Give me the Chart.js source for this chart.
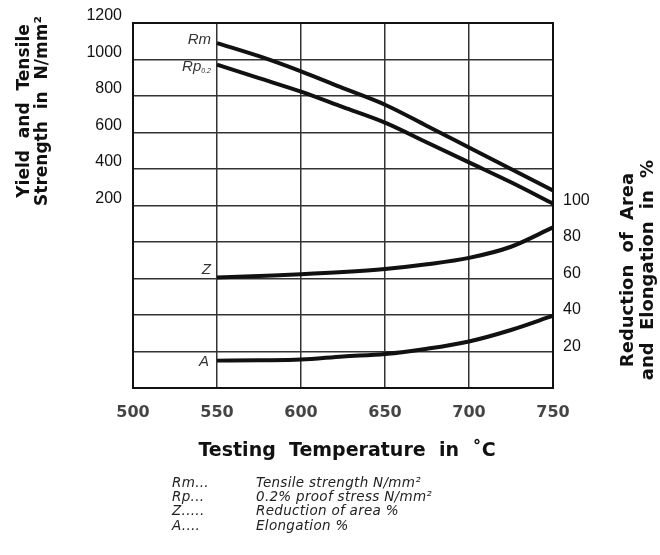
<!DOCTYPE html>
<html>
<head>
<meta charset="utf-8">
<script src="https://cdn.jsdelivr.net/npm/chart.js@4/dist/chart.umd.min.js"></script>
<style>
  html, body { margin: 0; padding: 0; background: #fff; }
  #wrap { position: relative; width: 660px; height: 555px; }
  #legend { position: absolute; left: 172px; top: 475px; font: oblique 13.5px "DejaVu Sans", sans-serif; letter-spacing: 0.3px; color: #222; line-height: 14.2px; }
  #legend div { display: flex; }
  #legend span:first-child { width: 84px; }
</style>
</head>
<body>
<div id="wrap">
  <canvas id="chart" width="660" height="555"></canvas>
  <div id="legend">
    <div><span>Rm...</span><span>Tensile strength N/mm²</span></div>
    <div><span>Rp...</span><span>0.2% proof stress N/mm²</span></div>
    <div><span>Z.....</span><span>Reduction of area %</span></div>
    <div><span>A....</span><span>Elongation %</span></div>
  </div>
</div>
<script>
// testing temperature, °C
const temps = [550, 575, 600, 625, 650, 675, 700, 725, 750];
// strength, N/mm² (left axis)
const rm = [1090, 1018, 935, 843, 752, 636, 518, 400, 282];
const rp = [972, 898, 824, 739, 654, 545, 436, 327, 210];
// reduction of area / elongation, % (right axis)
const z = [60.5, 61.4, 62.3, 63.5, 65.2, 67.8, 71.3, 77.4, 88];
const a = [15, 15.2, 15.6, 17.3, 18.6, 21.5, 25.5, 31.8, 39.6];

const xTicks = [500, 550, 600, 650, 700, 750];
const strengthTicks = [200, 400, 600, 800, 1000, 1200];
const pctTicks = [20, 40, 60, 80, 100];

const pts = vals => vals.map((v, i) => ({ x: temps[i], y: v }));

function curve(label, vals, axis) {
  return {
    label, data: pts(vals), yAxisID: axis,
    borderColor: '#111', borderWidth: 4, pointRadius: 0,
    cubicInterpolationMode: 'monotone', fill: false, clip: false
  };
}

// vertical two-line title, reads bottom to top
function sideTitle(ctx, cx, cy, size, gap, spacing, lines) {
  ctx.save();
  ctx.translate(cx, cy);
  ctx.rotate(-Math.PI / 2);
  ctx.font = `bold ${size}px "DejaVu Sans", sans-serif`;
  if ('wordSpacing' in ctx) ctx.wordSpacing = spacing + 'px';
  ctx.fillText(lines[0], 0, -gap / 2);
  ctx.fillText(lines[1], 0, gap / 2);
  ctx.restore();
}

const labelsPlugin = {
  id: 'labels',
  afterDraw(chart) {
    const { ctx, chartArea: ca } = chart;
    ctx.save();
    ctx.strokeStyle = '#111';
    ctx.lineWidth = 2;
    ctx.strokeRect(ca.left, ca.top, ca.right - ca.left, ca.bottom - ca.top);

    // curve names
    const xs = chart.scales.x, yl = chart.scales.y, yr = chart.scales.y2;
    const lx = xs.getPixelForValue(temps[0]) - 6;
    ctx.fillStyle = '#333';
    ctx.textAlign = 'right';
    ctx.textBaseline = 'middle';
    ctx.font = 'italic 15px "Liberation Sans", Arial, sans-serif';
    ctx.fillText('Rm', lx, yl.getPixelForValue(rm[0]) - 3);
    ctx.font = 'italic 7px "Liberation Sans", Arial, sans-serif';
    ctx.fillText('0.2', lx, yl.getPixelForValue(rp[0]) + 6);
    const subW = ctx.measureText('0.2').width;
    ctx.font = 'italic 15px "Liberation Sans", Arial, sans-serif';
    ctx.fillText('Rp', lx - subW, yl.getPixelForValue(rp[0]) + 2);
    ctx.fillText('Z', lx, yr.getPixelForValue(z[0]) - 8);
    ctx.fillText('A', lx - 2, yr.getPixelForValue(a[0]) + 1);

    // axis titles
    ctx.fillStyle = '#111';
    ctx.textAlign = 'center';
    ctx.font = 'bold 19px "DejaVu Sans", sans-serif';
    ctx.fillText('Testing  Temperature  in  ˚C', (ca.left + ca.right) / 2 + 4, 451);

    sideTitle(ctx, 34, 111, 17, 18, 6, ['Yield and Tensile', 'Strength in N/mm²']);
    sideTitle(ctx, 638, 270, 18, 20, 6, ['Reduction of Area', 'and Elongation in %']);
    ctx.restore();
  }
};

const tickFont = { family: '"Liberation Sans", Arial, sans-serif', size: 16 };

new Chart(document.getElementById('chart'), {
  type: 'line',
  data: {
    datasets: [
      curve('Rm', rm, 'y'),
      curve('Rp0.2', rp, 'y'),
      curve('Z', z, 'y2'),
      curve('A', a, 'y2')
    ]
  },
  options: {
    responsive: false,
    animation: false,
    layout: { padding: { top: 23, left: 0, right: 0, bottom: 0 } },
    plugins: { legend: { display: false }, tooltip: { enabled: false } },
    scales: {
      x: {
        type: 'linear', min: xTicks[0], max: xTicks[xTicks.length - 1],
        afterBuildTicks: s => { s.ticks = xTicks.map(v => ({ value: v })); },
        afterFit: s => { s.height = 167; },
        grid: { color: '#333', lineWidth: 1.5, drawTicks: false },
        border: { color: '#111', width: 2 },
        ticks: { padding: 15, color: '#444', font: { family: '"DejaVu Sans", sans-serif', size: 16, weight: '600' } }
      },
      y: {
        position: 'left', min: -800, max: 1200,
        ticks: {
          stepSize: 200, padding: 11, labelOffset: -7, color: '#111', font: tickFont,
          callback: v => strengthTicks.includes(v) ? String(v) : ''
        },
        afterFit: s => { s.width = 133; },
        grid: { color: '#333', lineWidth: 1.5, drawTicks: false },
        border: { color: '#111', width: 2 }
      },
      y2: {
        position: 'right', min: 0, max: 200,
        ticks: {
          stepSize: 20, padding: 10, labelOffset: -5, color: '#111', font: tickFont,
          callback: v => pctTicks.includes(v) ? String(v) : ''
        },
        afterFit: s => { s.width = 107; },
        grid: { display: false, drawTicks: false },
        border: { color: '#111', width: 2 }
      }
    }
  },
  plugins: [labelsPlugin]
});
</script>
</body>
</html>
